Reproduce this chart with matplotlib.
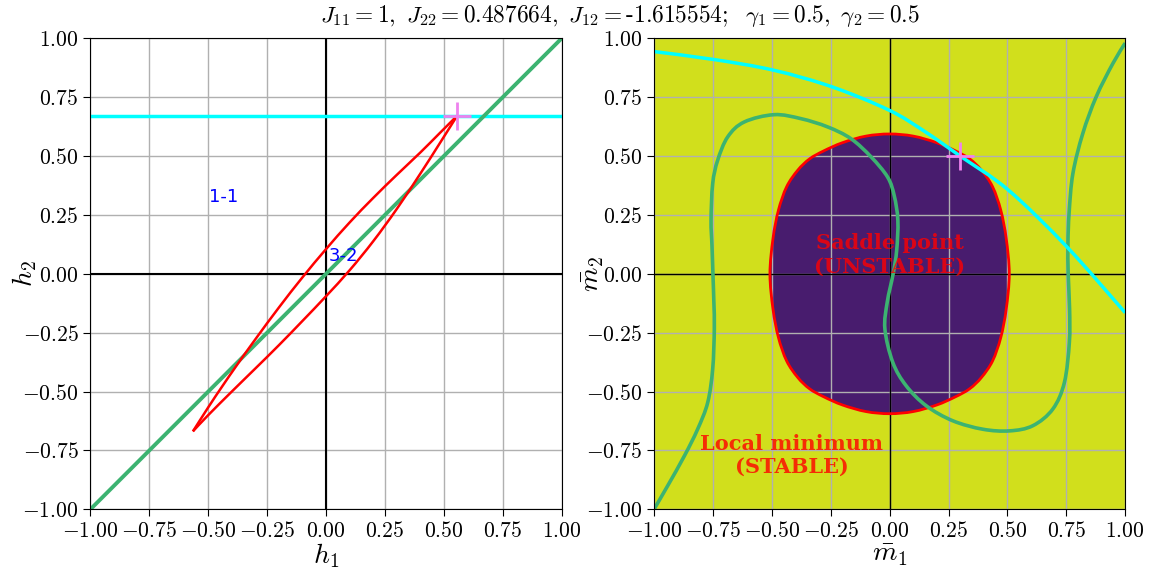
import numpy as np
import matplotlib
matplotlib.use("Agg")
import matplotlib.pyplot as plt
from matplotlib.path import Path
from matplotlib.patches import PathPatch

plt.rcParams['font.family'] = 'cmr10'
plt.rcParams['mathtext.fontset'] = 'cm'
plt.rcParams['axes.formatter.use_mathtext'] = True

# couplings shown in the title
J11, J22, J12 = 1, 0.487664, -1.615554
gamma1, gamma2 = 0.5, 0.5

# ---- field plane (h1, h2) ----
diag_h1 = [-1.0, 1.0]
diag_h2 = [-1.0, 1.0]
h2_level = 0.672          # image of the cyan curve
crit_h = (0.557, 0.672)   # critical point

# boundary of the saddle region mapped into h-space (two branches tip to tip)
loop_a_h1 = [-0.565, -0.50, -0.44, -0.38, -0.30, -0.20, -0.10, 0.0,
             0.10, 0.20, 0.30, 0.40, 0.48, 0.557]
loop_a_h2 = [-0.669, -0.567, -0.477, -0.39, -0.278, -0.143, -0.015, 0.105,
             0.218, 0.322, 0.42, 0.515, 0.595, 0.672]
loop_b_h1 = [-0.565, -0.50, -0.40, -0.30, -0.20, -0.10, 0.0,
             0.10, 0.20, 0.30, 0.40, 0.48, 0.557]
loop_b_h2 = [-0.669, -0.60, -0.50, -0.402, -0.303, -0.20, -0.095,
             0.015, 0.138, 0.275, 0.425, 0.55, 0.672]

# ---- magnetisation plane (m1, m2) ----
cyan_m1 = [-1.0, -0.744, -0.493, -0.244, 0.0, 0.15, 0.30, 0.505, 0.754, 1.0]
cyan_m2 = [0.944, 0.91, 0.865, 0.794, 0.694, 0.604, 0.50, 0.355, 0.113, -0.165]

green_m1 = [-1.0, -0.942, -0.871, -0.815, -0.772, -0.751, -0.744, -0.746, -0.75,
            -0.754, -0.758, -0.751, -0.730, -0.687, -0.617, -0.49, -0.376, -0.263,
            -0.164, -0.078, -0.008, 0.02, 0.035, 0.03, 0.015, -0.01, -0.02, 0.0135,
            0.07, 0.155, 0.268, 0.396, 0.509, 0.608, 0.693, 0.742, 0.763, 0.764,
            0.758, 0.757, 0.762, 0.778, 0.82, 0.877, 0.948, 1.0]
green_m2 = [-1.0, -0.90, -0.773, -0.66, -0.546, -0.404, -0.234, -0.12, 0.0,
            0.12, 0.227, 0.383, 0.482, 0.582, 0.645, 0.676, 0.659, 0.624,
            0.574, 0.496, 0.41, 0.33, 0.227, 0.1, 0.0, -0.12, -0.234, -0.376,
            -0.475, -0.56, -0.624, -0.66, -0.667, -0.645, -0.574, -0.461, -0.291, -0.15,
            0.0, 0.13, 0.26, 0.426, 0.596, 0.752, 0.894, 0.98]

# one quarter of the saddle-region boundary (it is symmetric in both axes)
saddle_q_m1 = [0.0, 0.10, 0.20, 0.28, 0.34, 0.39, 0.437, 0.472, 0.495, 0.508]
saddle_q_m2 = [0.594, 0.585, 0.557, 0.522, 0.488, 0.44, 0.37, 0.27, 0.15, 0.0]
crit_m = (0.30, 0.50)

ticks = np.arange(-1.0, 1.01, 0.25)
bg_stable = '#d1df1c'
bg_saddle = '#481c6e'
green = '#3cb371'


def smooth_path(x, y, closed=False):
    # cubic bezier pieces through every point (catmull-rom tangents)
    pts = np.column_stack([x, y]).astype(float)
    n = len(pts)
    if closed:
        ext = np.vstack([pts[-1], pts, pts[0], pts[1]])
        nseg = n
    else:
        ext = np.vstack([pts[0], pts, pts[-1]])
        nseg = n - 1
    verts = [ext[1]]
    codes = [Path.MOVETO]
    for i in range(nseg):
        p0, p1, p2, p3 = ext[i], ext[i + 1], ext[i + 2], ext[i + 3]
        verts += [p1 + (p2 - p0) / 6.0, p2 - (p3 - p1) / 6.0, p2]
        codes += [Path.CURVE4] * 3
    if closed:
        verts.append(ext[1])
        codes.append(Path.CLOSEPOLY)
    return Path(verts, codes)


def smooth_line(ax, x, y, **kw):
    ax.add_patch(PathPatch(smooth_path(x, y), fill=False, zorder=2.2, **kw))


fig = plt.figure(figsize=(11.7, 5.79), dpi=100)
ax0 = fig.add_axes([0.0773, 0.1204, 0.4027, 0.8133])
ax1 = fig.add_axes([0.559, 0.1204, 0.4027, 0.8133])

#--- left: h plane
ax0.grid(True, color='#b0b0b0', lw=1)
ax0.axhline(0, color='k', lw=1.5)
ax0.axvline(0, color='k', lw=1.5)
ax0.axhline(h2_level, color='cyan', lw=2.5)
ax0.plot(diag_h1, diag_h2, color=green, lw=2.8)
smooth_line(ax0, loop_a_h1, loop_a_h2, edgecolor='red', lw=1.8)
smooth_line(ax0, loop_b_h1, loop_b_h2, edgecolor='red', lw=1.8)
ax0.plot(*crit_h, '+', color='violet', ms=20, mew=2, zorder=3)
ax0.text(-0.495, 0.325, '1-1', color='blue', fontsize=13, family='DejaVu Sans', va='center')
ax0.text(0.012, 0.075, '3-2', color='blue', fontsize=13, family='DejaVu Sans', va='center')
ax0.set_xlabel(r'$h_1$', fontsize=20)
ax0.set_ylabel(r'$h_2$', fontsize=20)
ax0.yaxis.set_label_coords(-0.11, 0.5)
ax0.xaxis.set_label_coords(0.5, -0.068)

#--- right: m plane
ax1.set_facecolor(bg_stable)
qx = np.array(saddle_q_m1)
qy = np.array(saddle_q_m2)
bx = np.concatenate([qx, qx[::-1][1:], -qx[1:], -qx[::-1][1:-1]])
by = np.concatenate([qy, -qy[::-1][1:], -qy[1:], qy[::-1][1:-1]])
saddle = smooth_path(bx, by, closed=True)
ax1.add_patch(PathPatch(saddle, facecolor=bg_saddle, edgecolor='none', zorder=1))
ax1.grid(True, color='#b0b0b0', lw=1)
ax1.axhline(0, color='k', lw=1)
ax1.axvline(0, color='k', lw=1)
ax1.add_patch(PathPatch(saddle, fill=False, edgecolor='red', lw=2, zorder=2.1))
smooth_line(ax1, green_m1, green_m2, edgecolor=green, lw=2.6)
smooth_line(ax1, cyan_m1, cyan_m2, edgecolor='cyan', lw=2.5)
ax1.plot(*crit_m, '+', color='violet', ms=20, mew=2, zorder=3)
ax1.text(0.0, 0.08, 'Saddle point\n(UNSTABLE)', color='red', alpha=0.8, fontsize=15,
         family='DejaVu Serif', weight='bold', ha='center', va='center', multialignment='center')
ax1.text(-0.415, -0.77, 'Local minimum\n(STABLE)', color='red', alpha=0.8, fontsize=15,
         family='DejaVu Serif', weight='bold', ha='center', va='center', multialignment='center')
ax1.set_xlabel(r'$\bar{m}_1$', fontsize=20)
ax1.set_ylabel(r'$\bar{m}_2$', fontsize=20)
ax1.yaxis.set_label_coords(-0.102, 0.5)
ax1.xaxis.set_label_coords(0.5, -0.068)

for ax in (ax0, ax1):
    ax.set_xlim(-1, 1)
    ax.set_ylim(-1, 1)
    ax.set_xticks(ticks)
    ax.set_yticks(ticks)
    ax.tick_params(labelsize=15.5, length=5)

title_str = (r'$J_{11} = %s,\ J_{22} = %s,\ J_{12} = $' % (J11, J22) + '-' +
             r'$%s;\ \ \gamma_1 = %s,\ \gamma_2 = %s$' % (abs(J12), gamma1, gamma2))
fig.suptitle(title_str, fontsize=16.8, x=0.53, y=0.995)

fig.savefig('out.png', dpi=100)
